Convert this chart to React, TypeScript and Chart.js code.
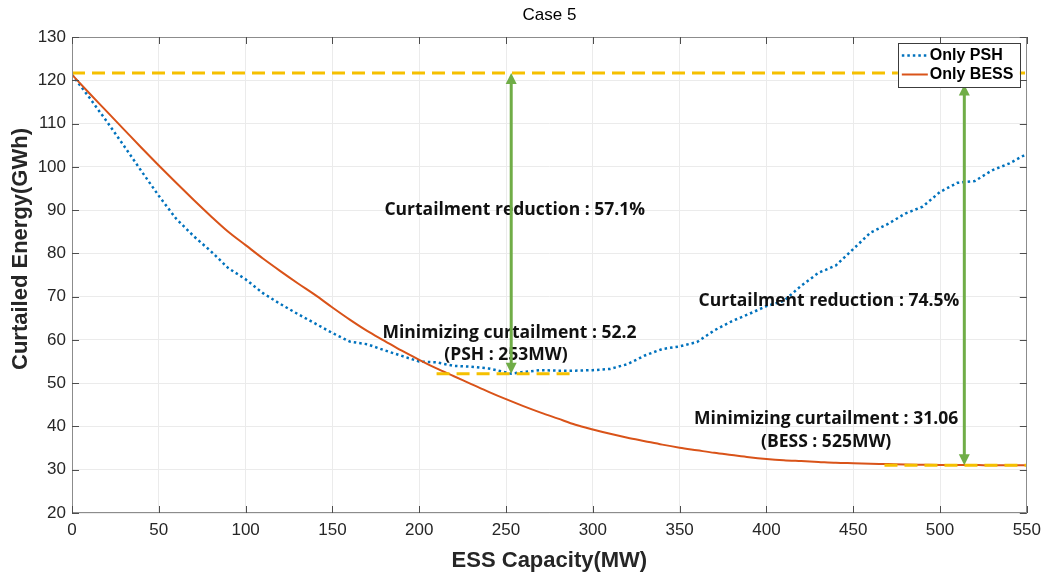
import { useEffect, useRef } from "react";
import { Chart, registerables } from "chart.js";

Chart.register(...registerables);

// ESS capacity (MW) evaluated for the pumped-storage-only case
const pshCapacity = [
  0, 10, 20, 30, 40, 50, 60, 70, 80, 90, 100, 110, 120, 130, 140, 150, 160, 170, 180, 190,
  200, 210, 220, 230, 240, 250, 253, 260, 270, 280, 290, 300, 310, 320, 330, 340, 350, 360,
  370, 380, 390, 400, 410, 420, 430, 440, 450, 460, 470, 480, 490, 500, 510, 520, 530, 540, 550,
];
// Curtailed energy (GWh) with pumped storage only
const pshEnergy = [
  121.3, 116.0, 110.5, 104.8, 99.0, 93.3, 88.0, 84.0, 80.5, 76.6, 74.0, 70.8, 68.3, 66.0, 63.8,
  61.6, 59.6, 59.0, 57.6, 56.3, 55.0, 54.8, 54.0, 53.8, 53.4, 52.5, 52.2, 52.6, 53.0, 52.9, 52.9,
  53.0, 53.3, 54.4, 56.4, 57.9, 58.5, 59.5, 62.2, 64.3, 66.0, 67.8, 69.0, 72.5, 75.5, 77.2, 81.0,
  84.8, 86.8, 89.2, 90.8, 94.2, 96.3, 96.7, 99.2, 100.8, 103.0,
];

// ESS capacity (MW) evaluated for the battery-only case
const bessCapacity = [
  0, 10, 20, 30, 40, 50, 60, 70, 80, 90, 100, 110, 120, 130, 140, 150, 160, 170, 180, 190,
  200, 210, 220, 230, 240, 250, 260, 270, 280, 290, 300, 310, 320, 330, 340, 350, 360, 370,
  380, 390, 400, 410, 420, 430, 440, 450, 460, 470, 480, 490, 500, 510, 520, 525, 530, 540, 550,
];
// Curtailed energy (GWh) with batteries only
const bessEnergy = [
  121.3, 117.0, 112.8, 108.6, 104.4, 100.3, 96.3, 92.4, 88.6, 85.0, 81.9, 78.8, 75.9, 73.1, 70.4,
  67.5, 64.7, 62.1, 59.8, 57.5, 55.4, 53.4, 51.6, 49.8, 48.0, 46.3, 44.7, 43.2, 41.8, 40.4, 39.3,
  38.3, 37.4, 36.6, 35.8, 35.1, 34.5, 33.9, 33.4, 32.9, 32.5, 32.2, 32.0, 31.8, 31.6, 31.5, 31.4,
  31.3, 31.2, 31.15, 31.1, 31.08, 31.07, 31.06, 31.06, 31.06, 31.06,
];

const xTickValues = [0, 50, 100, 150, 200, 250, 300, 350, 400, 450, 500, 550];
const yTickValues = [20, 30, 40, 50, 60, 70, 80, 90, 100, 110, 120, 130];

// Curtailment without any storage
const baselineEnergy = 121.7;
const baselineSpan = [0, 550];

// Optimal points for each storage type
const pshBestCapacity = 253;
const pshBestEnergy = 52.2;
const pshBestSpan = [210, 290];
const bessBestCapacity = 525;
const bessBestEnergy = 31.06;
const bessBestSpan = [468, 550];

// Reduction arrows: x position, upper tip, lower tip
const arrowCapacity = [pshBestCapacity, 514];
const arrowTop = [baselineEnergy, 119];
const arrowBottom = [pshBestEnergy, bessBestEnergy];

const reductionPct = [57.1, 74.5];

const PSH_COLOR = "#0072BD";
const BESS_COLOR = "#D95319";
const GUIDE_COLOR = "#F5C000";
const ARROW_COLOR = "#70AD47";
const TICK_FONT = "'Liberation Sans', Arial, sans-serif";
const NOTE_FONT = "'Open Sans', 'Noto Sans', sans-serif";

function drawArrow(ctx: CanvasRenderingContext2D, x: number, yTop: number, yBottom: number) {
  const head = 11;
  const half = 5.5;
  ctx.save();
  ctx.strokeStyle = ARROW_COLOR;
  ctx.fillStyle = ARROW_COLOR;
  ctx.lineWidth = 3;
  ctx.beginPath();
  ctx.moveTo(x, yTop + head - 1);
  ctx.lineTo(x, yBottom - head + 1);
  ctx.stroke();
  ctx.beginPath();
  ctx.moveTo(x, yTop);
  ctx.lineTo(x - half, yTop + head);
  ctx.lineTo(x + half, yTop + head);
  ctx.closePath();
  ctx.fill();
  ctx.beginPath();
  ctx.moveTo(x, yBottom);
  ctx.lineTo(x - half, yBottom - head);
  ctx.lineTo(x + half, yBottom - head);
  ctx.closePath();
  ctx.fill();
  ctx.restore();
}

const overlayPlugin = {
  id: "caseOverlay",
  beforeDraw(chart: any) {
    const { ctx, width, height } = chart;
    ctx.save();
    ctx.fillStyle = "#ffffff";
    ctx.fillRect(0, 0, width, height);
    ctx.restore();
  },
  afterDatasetsDraw(chart: any) {
    const { ctx, chartArea: a, scales } = chart;
    const xs = scales.x;
    const ys = scales.y;

    // Axes box with inward tick marks on all four sides
    ctx.save();
    ctx.strokeStyle = "#8c8c8c";
    ctx.lineWidth = 1;
    ctx.strokeRect(Math.round(a.left) + 0.5, Math.round(a.top) + 0.5, Math.round(a.width) - 1, Math.round(a.height) - 1);
    ctx.strokeStyle = "#4d4d4d";
    ctx.beginPath();
    const tick = 7;
    xs.ticks.forEach((t: any) => {
      const px = Math.round(xs.getPixelForValue(t.value)) + 0.5;
      ctx.moveTo(px, a.bottom);
      ctx.lineTo(px, a.bottom - tick);
      ctx.moveTo(px, a.top);
      ctx.lineTo(px, a.top + tick);
    });
    ys.ticks.forEach((t: any) => {
      const py = Math.round(ys.getPixelForValue(t.value)) + 0.5;
      ctx.moveTo(a.left, py);
      ctx.lineTo(a.left + tick, py);
      ctx.moveTo(a.right, py);
      ctx.lineTo(a.right - tick, py);
    });
    ctx.stroke();
    ctx.restore();

    // Annotation text
    ctx.save();
    ctx.fillStyle = "#111111";
    ctx.textAlign = "center";
    ctx.textBaseline = "middle";
    ctx.font = `bold 17.5px ${NOTE_FONT}`;
    const note = (text: string, mw: number, gwh: number) =>
      ctx.fillText(text, xs.getPixelForValue(mw), ys.getPixelForValue(gwh));
    note(`Curtailment reduction : ${reductionPct[0]}%`, 255, 90);
    note(`Minimizing curtailment : ${pshBestEnergy}`, 252, 61.6);
    note(`(PSH : ${pshBestCapacity}MW)`, 250, 56.5);
    note(`Curtailment reduction : ${reductionPct[1]}%`, 436, 69.1);
    note(`Minimizing curtailment : ${bessBestEnergy}`, 434.4, 41.7);
    note(`(BESS : ${bessBestCapacity}MW)`, 434.4, 36.5);
    ctx.restore();

    // Reduction arrows
    arrowCapacity.forEach((mw, i) => {
      drawArrow(ctx, xs.getPixelForValue(mw), ys.getPixelForValue(arrowTop[i]), ys.getPixelForValue(arrowBottom[i]));
    });

    // Y axis title
    ctx.save();
    ctx.translate(21, 249);
    ctx.rotate(-Math.PI / 2);
    ctx.textAlign = "center";
    ctx.textBaseline = "middle";
    ctx.fillStyle = "#262626";
    ctx.font = `bold 22px ${TICK_FONT}`;
    ctx.fillText("Curtailed Energy(GWh)", 0, 0);
    ctx.restore();

    // Legend box in the upper-right corner of the plot
    const curves = chart.data.datasets.filter((d: any) => d.showInLegend);
    const boxW = 122;
    const rowH = 19;
    const boxH = 6 + rowH * curves.length;
    const bx = a.right - 7 - boxW;
    const by = a.top + 6;
    ctx.save();
    ctx.fillStyle = "#ffffff";
    ctx.fillRect(bx, by, boxW, boxH);
    ctx.strokeStyle = "#3c3c3c";
    ctx.lineWidth = 1;
    ctx.strokeRect(Math.round(bx) + 0.5, Math.round(by) + 0.5, boxW, boxH);
    ctx.font = `bold 16px ${TICK_FONT}`;
    ctx.textBaseline = "middle";
    ctx.textAlign = "left";
    curves.forEach((d: any, i: number) => {
      const cy = by + 12.5 + i * rowH;
      ctx.save();
      ctx.strokeStyle = d.borderColor;
      ctx.lineWidth = d.borderWidth;
      ctx.setLineDash(d.borderDash || []);
      ctx.beginPath();
      ctx.moveTo(bx + 4, cy);
      ctx.lineTo(bx + 30, cy);
      ctx.stroke();
      ctx.restore();
      ctx.fillStyle = "#000000";
      ctx.fillText(d.label, bx + 32, cy);
    });
    ctx.restore();
  },
};

const toPoints = (xsArr: number[], ysArr: number[]) => xsArr.map((x, i) => ({ x, y: ysArr[i] }));

export default function App() {
  const canvasRef = useRef<HTMLCanvasElement | null>(null);

  useEffect(() => {
    const canvas = canvasRef.current;
    if (!canvas) return;
    const guide = {
      borderColor: GUIDE_COLOR,
      borderWidth: 3,
      borderDash: [13, 7],
      pointRadius: 0,
      order: 0,
    };
    const chart = new Chart(canvas, {
      type: "line",
      data: {
        datasets: [
          { label: "Baseline", data: toPoints(baselineSpan, [baselineEnergy, baselineEnergy]), ...guide },
          { label: "PSH optimum", data: toPoints(pshBestSpan, [pshBestEnergy, pshBestEnergy]), ...guide },
          { label: "BESS optimum", data: toPoints(bessBestSpan, [bessBestEnergy, bessBestEnergy]), ...guide },
          {
            label: "Only PSH",
            showInLegend: true,
            data: toPoints(pshCapacity, pshEnergy),
            borderColor: PSH_COLOR,
            borderWidth: 2.5,
            borderDash: [2.5, 3],
            borderCapStyle: "butt",
            pointRadius: 0,
            tension: 0,
            order: 2,
          },
          {
            label: "Only BESS",
            showInLegend: true,
            data: toPoints(bessCapacity, bessEnergy),
            borderColor: BESS_COLOR,
            borderWidth: 2,
            pointRadius: 0,
            cubicInterpolationMode: "monotone",
            order: 1,
          },
        ] as any,
      },
      options: {
        responsive: false,
        animation: false,
        layout: { padding: { left: 0, right: 20, top: 0, bottom: 0 } },
        plugins: {
          legend: { display: false },
          tooltip: { enabled: false },
          title: {
            display: true,
            text: "Case 5",
            fullSize: false,
            color: "#000000",
            font: { family: TICK_FONT, size: 17, weight: "normal" },
            padding: { top: 5, bottom: 11.6 },
          },
        },
        scales: {
          x: {
            type: "linear",
            min: 0,
            max: 550,
            afterBuildTicks: (s: any) => {
              s.ticks = xTickValues.map((v) => ({ value: v }));
            },
            afterFit: (s: any) => {
              s.height = 63;
            },
            grid: { color: "#ebebeb", drawTicks: false },
            border: { display: false },
            ticks: {
              color: "#262626",
              padding: 7,
              maxRotation: 0,
              font: { family: TICK_FONT, size: 17 },
            },
            title: {
              display: true,
              text: "ESS Capacity(MW)",
              color: "#262626",
              font: { family: TICK_FONT, size: 22, weight: "bold" },
              padding: { top: 0, bottom: 2 },
            },
          },
          y: {
            type: "linear",
            min: 20,
            max: 130,
            afterBuildTicks: (s: any) => {
              s.ticks = yTickValues.map((v) => ({ value: v }));
            },
            afterFit: (s: any) => {
              s.width = 72;
            },
            grid: { color: "#ebebeb", drawTicks: false },
            border: { display: false },
            ticks: {
              color: "#262626",
              padding: 6,
              font: { family: TICK_FONT, size: 17 },
            },
          },
        },
      } as any,
      plugins: [overlayPlugin],
    });
    return () => chart.destroy();
  }, []);

  return (
    <div style={{ position: "fixed", left: 0, top: 0, width: 1048, height: 576, background: "#ffffff" }}>
      <canvas ref={canvasRef} width={1048} height={576} />
    </div>
  );
}
